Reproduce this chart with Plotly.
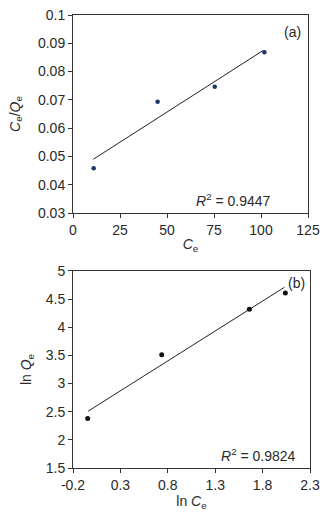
import plotly.graph_objects as go
from plotly.subplots import make_subplots

# Panel (a): Langmuir-type plot
a_ce = [11.0, 45.0, 75.4, 101.8]
a_ceqe = [0.0458, 0.0693, 0.0746, 0.0868]
a_trend_x = [10.8, 101.0]
a_trend_y = [0.0490, 0.0874]
a_xticks = [0, 25, 50, 75, 100, 125]
a_xtext = ["0", "25", "50", "75", "100", "125"]
a_yticks = [0.03, 0.04, 0.05, 0.06, 0.07, 0.08, 0.09, 0.1]
a_ytext = ["0.03", "0.04", "0.05", "0.06", "0.07", "0.08", "0.09", "0.1"]

# Panel (b): Freundlich-type plot
b_lnce = [-0.045, 0.736, 1.66, 2.04]
b_lnqe = [2.38, 3.51, 4.32, 4.61]
b_trend_x = [-0.04, 2.03]
b_trend_y = [2.51, 4.71]
b_xticks = [-0.2, 0.3, 0.8, 1.3, 1.8, 2.3]
b_xtext = ["-0.2", "0.3", "0.8", "1.3", "1.8", "2.3"]
b_yticks = [1.5, 2, 2.5, 3, 3.5, 4, 4.5, 5]
b_ytext = ["1.5", "2", "2.5", "3", "3.5", "4", "4.5", "5"]

FONT = "Liberation Sans, Arial, sans-serif"
AX = "#333333"
TXT = "#2a2a2a"

fig = make_subplots(rows=2, cols=1)

fig.add_trace(go.Scatter(x=a_trend_x, y=a_trend_y, mode="lines",
                         line=dict(color="#222222", width=1), showlegend=False), row=1, col=1)
fig.add_trace(go.Scatter(x=a_ce, y=a_ceqe, mode="markers",
                         marker=dict(color="#1F3468", size=4.5), showlegend=False), row=1, col=1)
fig.add_trace(go.Scatter(x=b_trend_x, y=b_trend_y, mode="lines",
                         line=dict(color="#222222", width=1), showlegend=False), row=2, col=1)
fig.add_trace(go.Scatter(x=b_lnce, y=b_lnqe, mode="markers",
                         marker=dict(color="#111111", size=5), showlegend=False), row=2, col=1)

common = dict(showgrid=False, zeroline=False, showline=True, linecolor=AX, linewidth=1,
              mirror=True, ticks="outside", ticklen=4, tickcolor=AX, automargin=False,
              tickfont=dict(family=FONT, size=14, color=TXT))

fig.update_layout(
    width=330, height=519,
    margin=dict(l=73, r=20, t=15, b=51),
    paper_bgcolor="white", plot_bgcolor="white",
    font=dict(family=FONT, size=14, color=TXT),
    xaxis=dict(domain=[0, 0.9916], range=[0, 125], tickvals=a_xticks, ticktext=a_xtext,
               title=dict(text="<i>C</i><sub>e</sub>", standoff=2,
                          font=dict(family=FONT, size=14, color=TXT)), **common),
    yaxis=dict(domain=[0.5629, 1.0], range=[0.03, 0.1], tickvals=a_yticks, ticktext=a_ytext,
               title=dict(text="<i>C</i><sub>e</sub>/<i>Q</i><sub>e</sub>", standoff=14,
                          font=dict(family=FONT, size=14, color=TXT)), **common),
    xaxis2=dict(domain=[0, 1.0], range=[-0.2, 2.3], tickvals=b_xticks, ticktext=b_xtext,
                title=dict(text="ln <i>C</i><sub>e</sub>", standoff=2,
                           font=dict(family=FONT, size=14, color=TXT)), **common),
    yaxis2=dict(domain=[0.0, 0.4349], range=[1.5, 5], tickvals=b_yticks, ticktext=b_ytext,
                title=dict(text="ln <i>Q</i><sub>e</sub>", standoff=10,
                           font=dict(family=FONT, size=14, color=TXT)), **common),
)

fig.add_annotation(x=116.5, y=0.094, xref="x", yref="y", text="(a)", showarrow=False,
                   font=dict(family=FONT, size=14, color=TXT))
fig.add_annotation(x=85.6, y=0.0346, xref="x", yref="y",
                   text="<i>R</i><sup>2</sup> = 0.9447", showarrow=False,
                   font=dict(family=FONT, size=14, color=TXT))
fig.add_annotation(x=2.16, y=4.78, xref="x2", yref="y2", text="(b)", showarrow=False,
                   font=dict(family=FONT, size=14, color=TXT))
fig.add_annotation(x=1.76, y=1.73, xref="x2", yref="y2",
                   text="<i>R</i><sup>2</sup> = 0.9824", showarrow=False,
                   font=dict(family=FONT, size=14, color=TXT))

fig.write_html("out.html", config={"displayModeBar": False},
               post_script="document.body.style.margin='0';document.body.style.overflow='hidden';")
